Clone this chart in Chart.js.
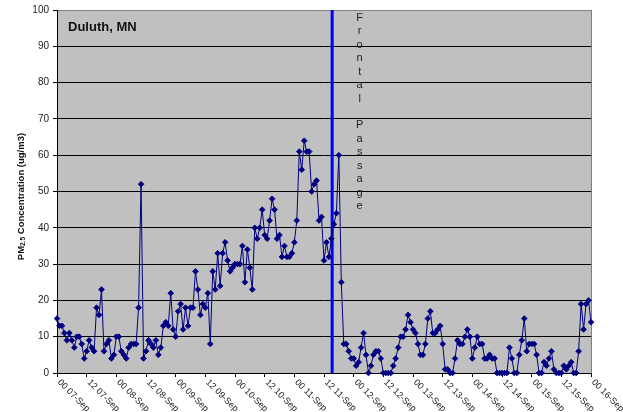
<!DOCTYPE html>
<html>
<head>
<meta charset="utf-8">
<script src="https://cdn.jsdelivr.net/npm/chart.js@4.4.0/dist/chart.umd.min.js"></script>
<style>
  html, body { margin: 0; padding: 0; background: #ffffff; }
  #wrap { width: 623px; height: 412px; position: relative; }
</style>
</head>
<body>
<div id="wrap"><canvas id="pmChart"></canvas></div>
<script>
// hourly PM2.5, 00 07-Sep .. 00 16-Sep
const pm25 = [
  15, 13, 13, 11, 9, 11, 9, 7, 10, 10,
  8, 4, 6, 9, 7, 6, 18, 16, 23, 6,
  8, 9, 4, 5, 10, 10, 6, 5, 4, 7,
  8, 8, 8, 18, 52, 4, 6, 9, 8, 7,
  9, 5, 7, 13, 14, 13, 22, 12, 10, 17,
  19, 12, 18, 13, 18, 18, 28, 23, 16, 19,
  18, 22, 8, 28, 23, 33, 24, 33, 36, 31,
  28, 29, 30, 30, 30, 35, 25, 34, 29, 23,
  40, 37, 40, 45, 38, 37, 42, 48, 45, 37,
  38, 32, 35, 32, 32, 33, 36, 42, 61, 56,
  64, 61, 61, 50, 52, 53, 42, 43, 31, 36,
  32, 37, 41, 44, 60, 25, 8, 8, 6, 4,
  4, 2, 3, 7, 11, 5, 0, 2, 5, 6,
  6, 4, 0, 0, 0, 0, 2, 4, 7, 10,
  10, 12, 16, 14, 12, 11, 8, 5, 5, 8,
  15, 17, 11, 11, 12, 13, 8, 1, 1, 0,
  0, 4, 9, 8, 8, 10, 12, 10, 4, 7,
  10, 8, 8, 4, 4, 5, 4, 4, 0, 0,
  0, 0, 0, 7, 4, 0, 0, 5, 9, 15,
  6, 8, 8, 8, 5, 0, 0, 3, 2, 4,
  6, 1, 0, 0, 0, 2, 1, 2, 3, 0,
  0, 6, 19, 12, 19, 20, 14
];

const xTickLabels = [
  "00 07-Sep", "12 07-Sep", "00 08-Sep", "12 08-Sep", "00 09-Sep", "12 09-Sep",
  "00 10-Sep", "12 10-Sep", "00 11-Sep", "12 11-Sep", "00 12-Sep", "12 12-Sep",
  "00 13-Sep", "12 13-Sep", "00 14-Sep", "12 14-Sep", "00 15-Sep", "12 15-Sep",
  "00 16-Sep"
];
const hoursPerTick = 12;
const yMin = 0;
const yMax = 100;
const yStep = 10;

const frontHour = 111.3;
const frontLabel = "Frontal Passage";
const siteLabel = "Duluth, MN";

const FONT = 'Arial, "Liberation Sans", sans-serif';

const pmPoints = pm25.map((v, i) => ({ x: i, y: v }));
const frontPoints = [{ x: frontHour, y: yMin }, { x: frontHour, y: yMax }];

const chartDecor = {
  id: "chartDecor",
  beforeDraw(chart) {
    const { ctx, chartArea: a } = chart;
    ctx.save();
    ctx.fillStyle = "#c0c0c0";
    ctx.fillRect(a.left, a.top, a.right - a.left, a.bottom - a.top);
    ctx.strokeStyle = "#808080";
    ctx.lineWidth = 1;
    ctx.strokeRect(Math.round(a.left) + 0.5, Math.round(a.top) + 0.5,
      Math.round(a.right - a.left), Math.round(a.bottom - a.top));
    ctx.restore();
  },
  afterDraw(chart) {
    const { ctx, chartArea: a } = chart;
    const xScale = chart.scales.x;
    ctx.save();

    // slanted date labels
    ctx.fillStyle = "#222";
    ctx.font = "9px " + FONT;
    ctx.textAlign = "left";
    ctx.textBaseline = "middle";
    xTickLabels.forEach((label, i) => {
      const px = xScale.getPixelForValue(i * hoursPerTick);
      ctx.save();
      ctx.translate(px + 2, a.bottom + 8);
      ctx.rotate(Math.PI / 4);
      ctx.fillText(label, 0, 0);
      ctx.restore();
    });

    // site name
    ctx.fillStyle = "#111";
    ctx.font = "bold 13px " + FONT;
    ctx.textAlign = "left";
    ctx.textBaseline = "middle";
    ctx.fillText(siteLabel, a.left + 11, a.top + 17);

    // frontal passage, one letter per row
    const fx = xScale.getPixelForValue(frontHour) + 27.5;
    ctx.fillStyle = "#222";
    ctx.font = "11px " + FONT;
    ctx.textAlign = "center";
    frontLabel.split("").forEach((ch, i) => {
      ctx.fillText(ch, fx, a.top + 8 + i * 13.43);
    });

    // y axis title with subscript
    const parts = [
      { t: "PM", f: "bold 9.5px " + FONT, dy: 0 },
      { t: "2.5", f: "bold 6.5px " + FONT, dy: 2.5 },
      { t: " Concentration (ug/m3)", f: "bold 9.5px " + FONT, dy: 0 }
    ];
    let total = 0;
    parts.forEach(p => { ctx.font = p.f; p.w = ctx.measureText(p.t).width; total += p.w; });
    ctx.translate(21, (a.top + a.bottom) / 2 + 5);
    ctx.rotate(-Math.PI / 2);
    ctx.fillStyle = "#111";
    ctx.textAlign = "left";
    ctx.textBaseline = "middle";
    let cx = -total / 2;
    parts.forEach(p => {
      ctx.font = p.f;
      ctx.fillText(p.t, cx, p.dy);
      cx += p.w;
    });
    ctx.restore();
  }
};

new Chart(document.getElementById("pmChart"), {
  type: "line",
  data: {
    datasets: [
      {
        label: "PM2.5",
        data: pmPoints,
        borderColor: "#000080",
        backgroundColor: "#000080",
        borderWidth: 1,
        pointStyle: "rectRot",
        pointRadius: 2.8,
        pointBackgroundColor: "#000080",
        pointBorderColor: "#000080",
        pointBorderWidth: 1,
        tension: 0,
        clip: false,
        order: 0
      },
      {
        label: "Frontal Passage",
        data: frontPoints,
        borderColor: "#0000ff",
        borderWidth: 3,
        pointRadius: 0,
        order: 1
      }
    ]
  },
  options: {
    responsive: true,
    maintainAspectRatio: false,
    animation: false,
    layout: {
      padding: { left: 0, top: 10, right: 32, bottom: 35 }
    },
    plugins: {
      legend: { display: false },
      tooltip: { enabled: false }
    },
    scales: {
      x: {
        type: "linear",
        min: 0,
        max: (xTickLabels.length - 1) * hoursPerTick,
        ticks: { stepSize: hoursPerTick, display: false },
        grid: {
          drawOnChartArea: false,
          drawTicks: true,
          tickLength: 4,
          color: "#000"
        },
        border: { color: "#000", width: 1 },
        afterFit(scale) {
          scale.height = 4;
        }
      },
      y: {
        min: yMin,
        max: yMax,
        ticks: {
          stepSize: yStep,
          padding: 4,
          color: "#222",
          font: { family: FONT, size: 10 }
        },
        grid: {
          color: (ctx) => (ctx.tick && ctx.tick.value === yMax ? "#808080" : "#000"),
          tickColor: "#000",
          tickLength: 4
        },
        border: { color: "#000", width: 1 },
        afterFit(scale) {
          scale.width = 57;
        }
      }
    }
  },
  plugins: [chartDecor]
});
</script>
</body>
</html>
